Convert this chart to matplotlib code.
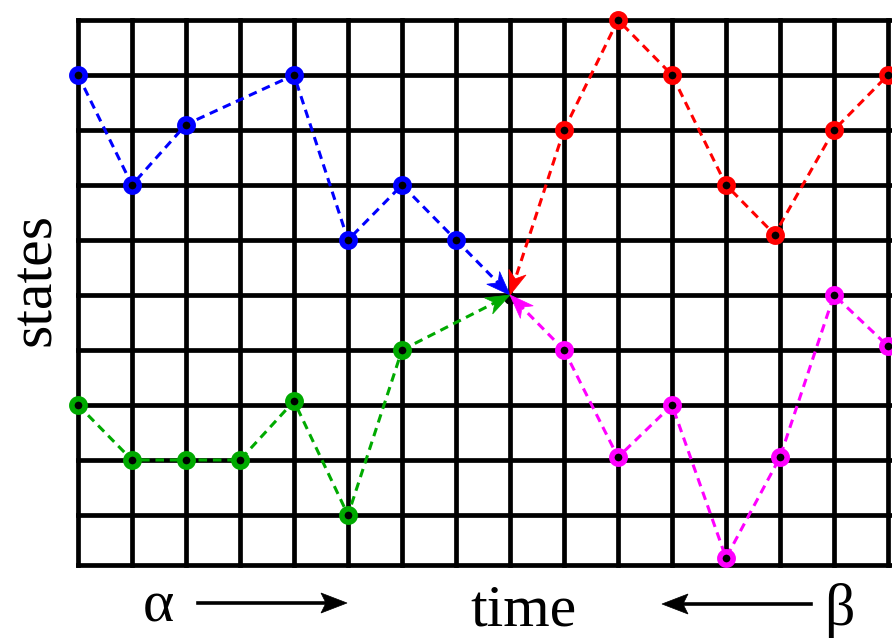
import numpy as np
import matplotlib
matplotlib.use("Agg")
import matplotlib.pyplot as plt
from matplotlib.patches import Polygon
from matplotlib.transforms import IdentityTransform

# ---- data ----
t_blue = [0, 1, 2, 4, 5, 6, 7]
s_blue = [9, 7, 8.1, 9, 6, 7, 6]
t_green = [0, 1, 2, 3, 4, 5, 6]
s_green = [3, 2, 2, 2, 3.07, 1, 4]
t_red = [9, 10, 11, 12, 12.9, 14, 15]
s_red = [8, 10, 9, 7, 6.1, 8, 9]
t_magenta = [9, 10, 11, 12, 13, 14, 15]
s_magenta = [4, 2.05, 3, 0.22, 2.05, 5, 4.07]
meet_t, meet_s = 8, 5
n_cols = 15
n_rows = 10

serif = ["Liberation Serif", "DejaVu Serif"]

W, H = 892, 639
fig = plt.figure(figsize=(W / 100, H / 100), dpi=100)
ax = fig.add_axes([78 / W, (H - 565) / H, (W - 78) / W, (565 - 20) / H])
xmax = (W - 78) / 54.0
ymin = 10 - 545 / 55.0
ax.set_xlim(0, xmax)
ax.set_ylim(ymin, 10)
ax.axis("off")

glw = 3.4
for t in range(0, n_cols + 1):
    ax.plot([t, t], [ymin, 10], color="black", lw=glw, clip_on=False,
            solid_capstyle="projecting", zorder=1)
for s in range(1, n_rows + 1):
    ax.plot([0, xmax + 0.2], [s, s], color="black", lw=glw, clip_on=False,
            solid_capstyle="projecting", zorder=1)
ax.plot([0, xmax + 0.2], [ymin, ymin], color="black", lw=glw, clip_on=False,
        solid_capstyle="projecting", zorder=1)

series = [
    (t_blue, s_blue, "#0000FF", t_blue[-1], s_blue[-1]),
    (t_green, s_green, "#00AA00", t_green[-1], s_green[-1]),
    (t_red, s_red, "#FF0000", t_red[0], s_red[0]),
    (t_magenta, s_magenta, "#FF00FF", t_magenta[0], s_magenta[0]),
]


def stealth(tip, direction, length, halfw, notch, color, z=6):
    d = np.asarray(direction, float)
    d = d / np.hypot(*d)
    n = np.array([-d[1], d[0]])
    tip = np.asarray(tip, float)
    back = tip - d * length
    verts = [tip, back + n * halfw, tip - d * (length - notch), back - n * halfw]
    p = Polygon(verts, closed=True, facecolor=color, edgecolor=color, lw=0.5,
                transform=IdentityTransform(), zorder=z)
    fig.add_artist(p)


meet_px = ax.transData.transform((meet_t, meet_s))
ax.plot([meet_t], [meet_s - 0.05], marker="o", ms=8, color="black", zorder=4, clip_on=False)

for tt, ss, c, lt, ls_ in series:
    ax.plot(tt, ss, color=c, lw=2.2, dashes=(2.8, 1.9), zorder=3, clip_on=False)
    ax.plot([lt, meet_t], [ls_, meet_s], color=c, lw=2.2, dashes=(2.8, 1.9),
            zorder=3, clip_on=False)
    ax.plot(tt, ss, ls="none", marker="o", ms=9.6, mfc="black", mec=c, mew=4.0,
            zorder=5, clip_on=False)
    start_px = ax.transData.transform((lt, ls_))
    stealth(meet_px, meet_px - start_px, 24, 9, 7, c)

# ---- text ----
fs = 43


def fx(x):
    return x / W


def fy(y):
    return 1 - y / H


fig.text(fx(36), fy(280), "states", rotation=90, ha="center", va="center",
         fontsize=fs, family=serif)
fig.text(fx(470), fy(625), "time", fontsize=fs, family=serif)
fig.text(fx(143), fy(621), "α", fontsize=fs, family=serif)
fig.text(fx(824), fy(625), "β", fontsize=fs, family=serif)


def text_arrow(x0, x1, y):
    yy = H - y
    fig.add_artist(plt.Line2D([x0, x1 - np.sign(x1 - x0) * 15], [yy, yy],
                              color="black", lw=2.6, transform=IdentityTransform()))
    stealth((x1, yy), (x1 - x0, 0), 26, 10, 5, "black")


text_arrow(198, 347, 603)
text_arrow(811, 662, 604)

fig.savefig("out.png", dpi=100)
